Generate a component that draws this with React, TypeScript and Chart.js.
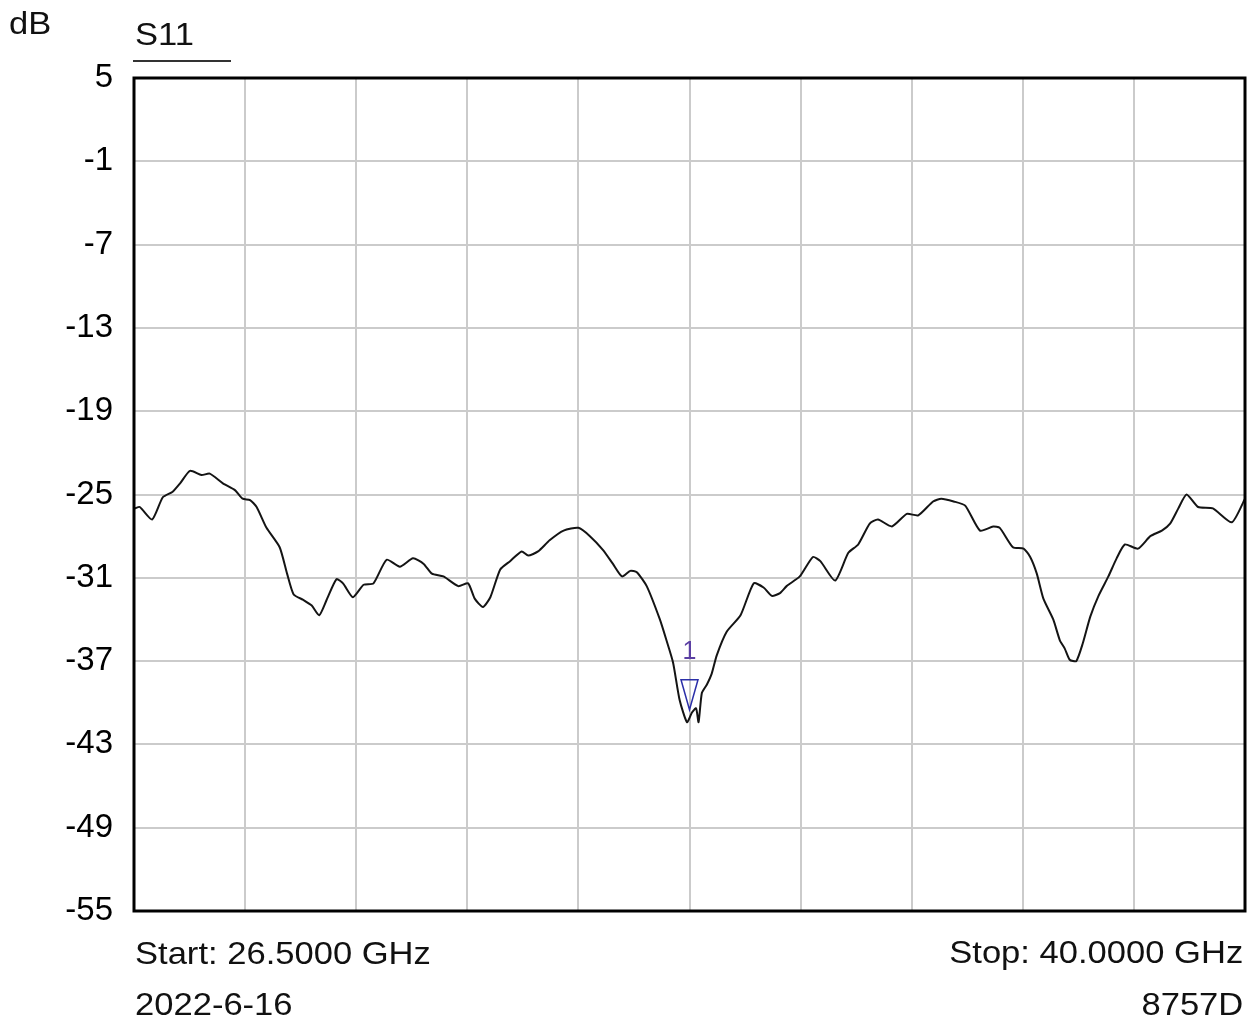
import React, { useEffect, useRef } from "react";
import { Chart, registerables } from "chart.js";

Chart.register(...registerables);

// Frequency (GHz) of each sampled trace point
const freqGHz = [
  26.5, 26.51, 26.57, 26.72, 26.85, 26.97, 27.06, 27.18, 27.32, 27.42, 27.58, 27.73, 27.82, 27.91, 27.99,
  28.11, 28.27, 28.36, 28.44, 28.56, 28.66, 28.75, 28.84, 28.96, 29.04, 29.16, 29.29, 29.41, 29.57,
  29.73, 29.89, 30.02, 30.12, 30.26, 30.44, 30.56, 30.64, 30.74, 30.83, 30.95, 31.07, 31.21, 31.29,
  31.41, 31.55, 31.72, 31.9, 32.04, 32.2, 32.32, 32.43, 32.53, 32.61, 32.73, 32.89, 32.97, 33.05,
  33.13, 33.22, 33.28, 33.33, 33.36, 33.4, 33.46, 33.52, 33.58, 33.7, 33.87, 34.03, 34.15, 34.25,
  34.35, 34.43, 34.59, 34.75, 34.84, 35.02, 35.18, 35.3, 35.44, 35.54, 35.71, 35.89, 36.03, 36.21,
  36.31, 36.46, 36.6, 36.78, 36.94, 37.02, 37.18, 37.31, 37.39, 37.47, 37.55, 37.67, 37.75, 37.81,
  37.87, 37.95, 38.03, 38.12, 38.22, 38.34, 38.44, 38.54, 38.7, 38.85, 38.99, 39.09, 39.19, 39.29,
  39.43, 39.61, 39.84, 40.0,
];

// S11 magnitude (dB) at each frequency above
const s11dB = [
  -26.0, -26.0, -25.9, -26.8, -25.2, -24.8, -24.2, -23.3, -23.6, -23.5, -24.2, -24.7, -25.3, -25.4, -25.9,
  -27.4, -28.8, -30.7, -32.2, -32.6, -33.0, -33.7, -32.6, -31.1, -31.4, -32.4, -31.5, -31.4, -29.7,
  -30.2, -29.6, -30.0, -30.7, -30.9, -31.6, -31.4, -32.5, -33.1, -32.4, -30.4, -29.8, -29.1, -29.4,
  -29.1, -28.3, -27.6, -27.4, -28.0, -29.0, -30.0, -30.9, -30.5, -30.6, -31.6, -34.0, -35.5, -37.1,
  -39.8, -41.4, -40.7, -40.4, -41.4, -39.3, -38.7, -37.9, -36.6, -34.9, -33.7, -31.4, -31.7, -32.3,
  -32.1, -31.6, -30.9, -29.5, -29.8, -31.2, -29.2, -28.6, -27.1, -26.8, -27.3, -26.4, -26.5, -25.5,
  -25.3, -25.5, -25.8, -27.6, -27.3, -27.4, -28.8, -28.9, -29.5, -30.7, -32.5, -34.0, -35.5, -36.1,
  -36.9, -37.0, -35.7, -33.8, -32.3, -30.9, -29.6, -28.6, -28.9, -28.0, -27.6, -27.1, -26.0, -25.0,
  -25.9, -26.0, -27.0, -25.3,
];

const yTickValues = [5, -1, -7, -13, -19, -25, -31, -37, -43, -49, -55];
const xGridGHz = [26.5, 27.85, 29.2, 30.55, 31.9, 33.25, 34.6, 35.95, 37.3, 38.65, 40.0];

const markerGHz = 33.25;
const markerDB = -40.5;
const markerLabel = "1";

const FONT = "'Liberation Sans', Arial, Helvetica, sans-serif";

const framePlugin = {
  id: "frame",
  afterDraw(chart: any) {
    const { ctx, chartArea } = chart;
    ctx.save();
    ctx.strokeStyle = "#000";
    ctx.lineWidth = 3;
    ctx.strokeRect(chartArea.left, chartArea.top, chartArea.right - chartArea.left, chartArea.bottom - chartArea.top);
    ctx.restore();
  },
};

const markerPlugin = {
  id: "marker",
  afterDatasetsDraw(chart: any) {
    const { ctx } = chart;
    const x = chart.scales.x.getPixelForValue(markerGHz);
    const y = chart.scales.y.getPixelForValue(markerDB);
    ctx.save();
    ctx.strokeStyle = "#2b2fa8";
    ctx.lineWidth = 1.5;
    ctx.beginPath();
    ctx.moveTo(x, y);
    ctx.lineTo(x - 8.5, y - 30);
    ctx.lineTo(x + 8.5, y - 30);
    ctx.closePath();
    ctx.stroke();
    ctx.fillStyle = "#5b3fa3";
    ctx.font = `25px ${FONT}`;
    ctx.textAlign = "center";
    ctx.textBaseline = "alphabetic";
    ctx.fillText(markerLabel, x, y - 51);
    ctx.restore();
  },
};

const textStyle: React.CSSProperties = {
  position: "absolute",
  fontFamily: FONT,
  fontSize: 32,
  lineHeight: "32px",
  color: "#111",
  whiteSpace: "nowrap",
};

const leftText: React.CSSProperties = { ...textStyle, transform: "scaleX(1.08)", transformOrigin: "left center" };
const rightText: React.CSSProperties = { ...textStyle, transform: "scaleX(1.08)", transformOrigin: "right center", textAlign: "right" };

export default function App() {
  const ref = useRef<HTMLCanvasElement | null>(null);

  useEffect(() => {
    if (!ref.current) return;
    const points = freqGHz.map((f, i) => ({ x: f, y: s11dB[i] }));
    const chart = new Chart(ref.current, {
      type: "line",
      data: {
        datasets: [
          {
            label: "S11",
            data: points,
            borderColor: "#141414",
            borderWidth: 2,
            pointRadius: 0,
            tension: 0.2,
            fill: false,
          },
        ],
      },
      options: {
        responsive: false,
        animation: false,
        layout: { padding: { top: 78, right: 7, bottom: 0, left: 0 } },
        plugins: {
          legend: { display: false },
          tooltip: { enabled: false },
          title: { display: false },
        },
        scales: {
          x: {
            type: "linear",
            min: 26.5,
            max: 40,
            afterBuildTicks: (scale: any) => {
              scale.ticks = xGridGHz.map((v) => ({ value: v }));
            },
            afterFit: (scale: any) => {
              scale.height = 112;
            },
            ticks: { display: false },
            grid: { color: "#cbcbcb", lineWidth: 2, drawTicks: false },
            border: { display: false },
          },
          y: {
            type: "linear",
            min: -55,
            max: 5,
            afterBuildTicks: (scale: any) => {
              scale.ticks = yTickValues.map((v) => ({ value: v }));
            },
            afterFit: (scale: any) => {
              scale.width = 134;
            },
            ticks: {
              color: "#000",
              font: { family: FONT, size: 33 },
              padding: 21,
              autoSkip: false,
              callback: (v: any) => String(v),
            },
            grid: { color: "#cbcbcb", lineWidth: 2, drawTicks: false },
            border: { display: false },
          },
        },
      },
      plugins: [framePlugin, markerPlugin],
    });
    return () => chart.destroy();
  }, []);

  return (
    <div style={{ position: "absolute", left: 0, top: 0, width: 1252, height: 1023, background: "#fff", overflow: "hidden" }}>
      <canvas ref={ref} width={1252} height={1023} style={{ display: "block" }} />
      <div style={{ ...leftText, left: 9, top: 7 }}>dB</div>
      <div style={{ ...leftText, left: 135, top: 18 }}>S11</div>
      <div style={{ position: "absolute", left: 133, top: 60, width: 98, height: 2, background: "#333" }} />
      <div style={{ ...leftText, left: 135, top: 937 }}>Start: 26.5000 GHz</div>
      <div style={{ ...leftText, left: 135, top: 988 }}>2022-6-16</div>
      <div style={{ ...rightText, right: 9, top: 936 }}>Stop: 40.0000 GHz</div>
      <div style={{ ...rightText, right: 9, top: 988 }}>8757D</div>
    </div>
  );
}
